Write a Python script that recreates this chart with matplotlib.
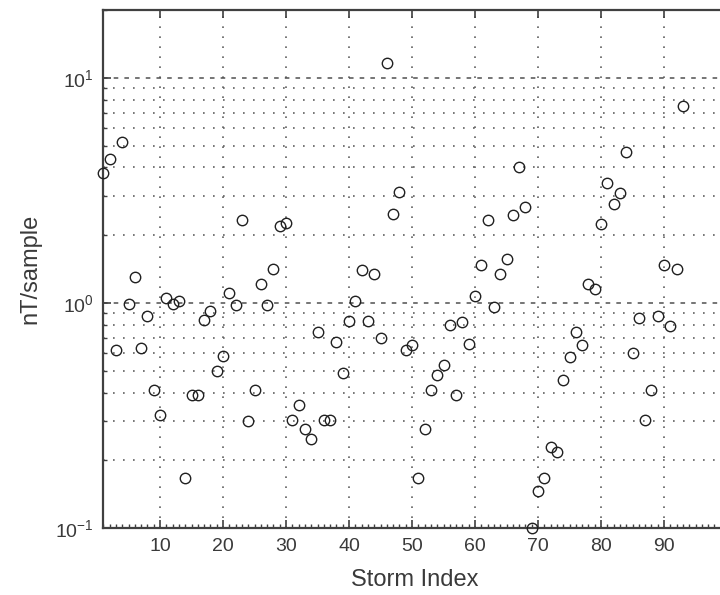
import matplotlib
matplotlib.use('Agg')
import matplotlib.pyplot as plt
from matplotlib.ticker import MultipleLocator, LogLocator, NullFormatter

# nT/sample for each storm
storm_index = list(range(1, 94))
nt_per_sample = [
    3.77, 4.35, 0.62, 5.17, 0.99, 1.31, 0.63, 0.88, 0.41, 0.32,
    1.05, 0.99, 1.02, 0.167, 0.39, 0.39, 0.84, 0.92, 0.50, 0.58,
    1.11, 0.98, 2.34, 0.30, 0.41, 1.21, 0.98, 1.42, 2.19, 2.27,
    0.304, 0.352, 0.275, 0.248, 0.744, 0.304, 0.304, 0.672, 0.49, 0.83,
    1.02, 1.40, 0.83, 1.34, 0.70, 11.6, 2.49, 3.12, 0.617, 0.65,
    0.167, 0.276, 0.41, 0.48, 0.53, 0.80, 0.39, 0.82, 0.66, 1.08,
    1.48, 2.34, 0.96, 1.34, 1.57, 2.45, 4.0, 2.66, 0.10, 0.147,
    0.167, 0.229, 0.219, 0.454, 0.576, 0.744, 0.65, 1.21, 1.16, 2.25,
    3.41, 2.75, 3.07, 4.67, 0.60, 0.86, 0.304, 0.41, 0.88, 1.48,
    0.79, 1.42, 7.5,
]
x_ticks = [10, 20, 30, 40, 50, 60, 70, 80, 90]

plt.rcParams['font.family'] = ['Liberation Sans', 'DejaVu Sans']
plt.rcParams['mathtext.fontset'] = 'custom'
plt.rcParams['mathtext.rm'] = 'Liberation Sans'

text_col = '#3a3a3a'
fig = plt.figure(figsize=(7.2, 5.95), dpi=100)
ax = fig.add_axes([0.1435, 0.1121, 0.8663, 0.8711])

ax.semilogy(storm_index, nt_per_sample, 'o', mfc='none', mec='#202020',
            ms=7.5, mew=1.0, clip_on=False, zorder=3)

ax.set_xlim(1, 100)
ax.set_ylim(0.1, 20)
ax.set_xticks(x_ticks)
ax.xaxis.set_minor_locator(MultipleLocator(1))
ax.yaxis.set_major_locator(LogLocator(base=10))
ax.yaxis.set_minor_locator(LogLocator(base=10, subs=range(2, 10)))
ax.yaxis.set_minor_formatter(NullFormatter())

# MATLAB-style grid: dashed decades, dotted minors
ax.grid(which='major', axis='y', ls=(0, (3, 4)), color='#505050', lw=1.1)
ax.grid(which='minor', axis='y', ls=(0, (1, 5)), color='#606060', lw=1.2)
ax.grid(which='major', axis='x', ls=(0, (1, 5)), color='#606060', lw=1.2)
ax.set_axisbelow(True)

for side in ('left', 'bottom', 'top'):
    ax.spines[side].set_color('#404040')
    ax.spines[side].set_linewidth(1.6)
ax.spines['right'].set_visible(False)

ax.tick_params(which='major', direction='in', length=6, width=1.2,
               colors='#404040', top=True, labelsize=14, pad=7,
               labelcolor=text_col)
ax.tick_params(which='minor', direction='in', length=3, width=1.0,
               colors='#404040')
ax.tick_params(axis='x', which='minor', top=False)

ax.set_xlabel('Storm Index', fontsize=17, color=text_col, labelpad=10)
ax.set_ylabel('nT/sample', fontsize=17, color=text_col, labelpad=10)

fig.savefig('out.png', dpi=100)
